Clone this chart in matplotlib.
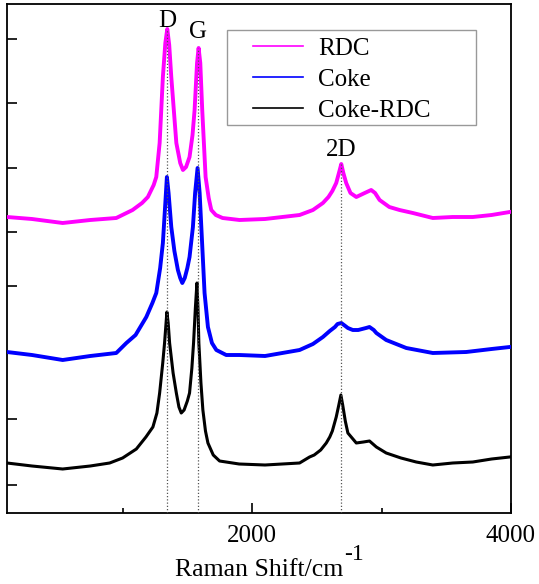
import matplotlib
matplotlib.use("Agg")
import matplotlib.pyplot as plt
from matplotlib.patches import Rectangle

plt.rcParams["font.family"] = ["Liberation Serif", "DejaVu Serif"]

# Raman spectra (stacked, arbitrary intensity units)
rdc_shift = [107, 300, 537, 750, 951, 1077, 1150, 1195, 1240, 1260, 1286, 1311, 1330, 1345,
             1360, 1376, 1415, 1445, 1466, 1490, 1517, 1540, 1556, 1575, 1587, 1600, 1615,
             1641, 1665, 1685, 1720, 1772, 1903, 2100, 2367, 2470, 2547, 2590, 2620, 2650,
             2675, 2689, 2705, 2727, 2760, 2805, 2870, 2920, 2950, 2985, 3060, 3139, 3242,
             3396, 3550, 3705, 3850, 3990]
rdc_int = [296, 294, 290, 293, 295, 303, 310, 316, 328, 336, 370, 436, 470, 484,
           468, 436, 370, 350, 343, 346, 356, 378, 403, 450, 465, 450, 403,
           336, 315, 303, 298, 295, 293, 294, 298, 303, 310, 316, 322, 330,
           342, 349, 340, 330, 320, 316, 320, 323, 320, 313, 306, 303, 300,
           295, 296, 296, 298, 301]

coke_shift = [107, 300, 537, 750, 951, 1029, 1100, 1183, 1230, 1260, 1290, 1311, 1330, 1342,
              1355, 1376, 1400, 1427, 1445, 1461, 1480, 1500, 1517, 1543, 1560, 1579, 1595,
              1608, 1633, 1659, 1690, 1724, 1800, 1903, 2100, 2367, 2470, 2547, 2600, 2640,
              2660, 2689, 2720, 2740, 2778, 2820, 2850, 2880, 2907, 2940, 2960, 3036, 3191,
              3396, 3654, 3850, 3990]
coke_int = [161, 158, 153, 157, 160, 170, 178, 196, 210, 220, 245, 270, 310, 336,
            320, 286, 262, 243, 235, 230, 235, 245, 256, 286, 320, 345, 320,
            286, 220, 186, 170, 163, 158, 158, 157, 163, 169, 176, 182, 186,
            189, 190, 187, 185, 183, 183, 184, 185, 186, 183, 180, 173, 165,
            160, 161, 164, 166]

mix_shift = [107, 300, 537, 750, 900, 1000, 1106, 1180, 1234, 1265, 1286, 1310, 1324, 1342,
             1352, 1363, 1390, 1415, 1435, 1453, 1475, 1500, 1517, 1535, 1548, 1562, 1574,
             1582, 1589, 1605, 1620, 1640, 1659, 1700, 1749, 1900, 2100, 2367, 2444, 2480,
             2530, 2573, 2600, 2620, 2650, 2670, 2686, 2700, 2720, 2740, 2805, 2860, 2907,
             2960, 3036, 3150, 3268, 3396, 3550, 3705, 3850, 3990]
mix_int = [50, 47, 44, 47, 50, 55, 64, 76, 86, 100, 120, 150, 170, 201,
           190, 170, 140, 120, 106, 100, 103, 112, 120, 145, 170, 205, 230,
           205, 170, 130, 103, 82, 70, 58, 52, 49, 48, 50, 56, 58,
           63, 70, 76, 82, 96, 108, 118, 108, 92, 80, 70, 71, 72,
           66, 60, 55, 51, 48, 50, 51, 54, 56]

series_labels = ["RDC", "Coke", "Coke-RDC"]
series_colors = ["#ff00ff", "#0000ff", "#000000"]

band_names = ["D", "G", "2D"]
band_shift = [1342, 1579, 2689]
band_top = [484, 465, 349]
band_label_y = [486, 475, 357]

x_major = [2000, 4000]
x_minor = [1000, 3000]
y_ticks = [474, 410, 345, 281, 227, 94, 28]

fig = plt.figure(figsize=(5.39, 5.84), dpi=100)
ax = fig.add_axes([7 / 539, 71 / 584, 504 / 539, 509 / 584])

ax.plot(rdc_shift, rdc_int, color=series_colors[0], lw=2.8, label=series_labels[0], zorder=3)
ax.plot(coke_shift, coke_int, color=series_colors[1], lw=2.8, label=series_labels[1], zorder=3)
ax.plot(mix_shift, mix_int, color=series_colors[2], lw=2.2, label=series_labels[2], zorder=3)

for name, xs, top, ly in zip(band_names, band_shift, band_top, band_label_y):
    ax.plot([xs, xs], [0, top], color="#555555", lw=0.9, ls=(0, (1, 1.6)), zorder=4)
    ax.text(xs, ly, name, ha="center", va="baseline", fontsize=18)

ax.set_xlim(107, 4000)
ax.set_ylim(0, 509)
ax.set_xticks(x_major)
ax.set_xticks(x_minor, minor=True)
ax.set_yticks(y_ticks)
ax.set_yticklabels([])
ax.tick_params(axis="x", which="major", direction="in", length=7.2, width=1.2,
               labelsize=18, pad=9, top=False)
ax.tick_params(axis="x", which="minor", direction="in", length=3.6, width=1.2, top=False)
ax.tick_params(axis="y", which="both", direction="in", length=7.2, width=1.2, right=False)
for sp in ax.spines.values():
    sp.set_linewidth(1.3)

ax.set_xlabel("Raman Shift/cm", fontsize=18.5, labelpad=8)
ax.annotate("-1", xy=(1.0, 0.0), xycoords=ax.xaxis.label, xytext=(1, 15),
            textcoords="offset points", ha="left", va="baseline", fontsize=17)

# legend without frame, boxed separately
leg = ax.legend(loc="upper left", bbox_to_anchor=(0.488, 0.935), frameon=False,
                fontsize=18, handlelength=2.0, handletextpad=0.6, labelspacing=0.34,
                borderaxespad=0, borderpad=0)
for h in leg.get_lines():
    h.set_linewidth(1.2)
ax.add_patch(Rectangle((0.4365, 0.762), 0.494, 0.187, transform=ax.transAxes,
                       fill=False, edgecolor="#999999", lw=1.0, zorder=5))

fig.savefig("out.png", dpi=100)
